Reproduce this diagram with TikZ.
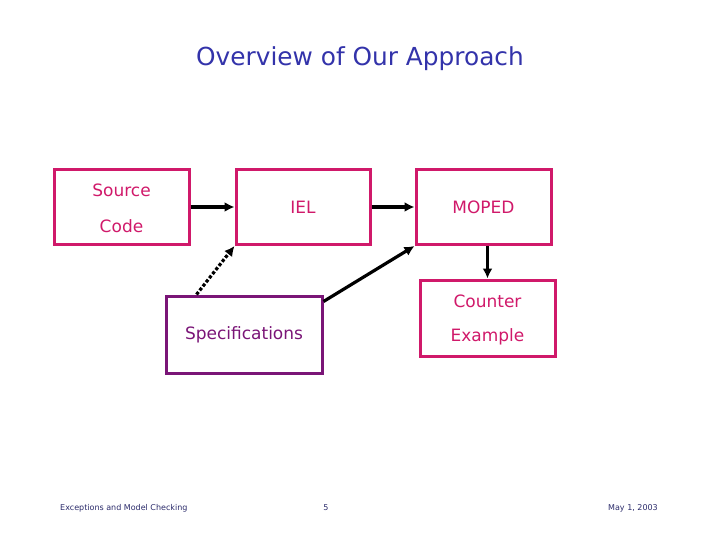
\documentclass[tikz,border=0pt]{standalone}
\usepackage{fontspec}
\setmainfont{DejaVu Sans}
\usetikzlibrary{arrows.meta}
\definecolor{boxpink}{HTML}{D0196A}
\definecolor{boxpurple}{HTML}{7A1577}
\definecolor{titleblue}{HTML}{3333AA}
\definecolor{footblue}{HTML}{2A2A6A}
\tikzset{
  pinkbox/.style={draw=boxpink, line width=3pt, text=boxpink, inner sep=0pt},
  purplebox/.style={draw=boxpurple, line width=3pt, text=boxpurple, inner sep=0pt},
  lbl/.style={font=\fontsize{17}{20}\selectfont},
  conn/.style={line width=3.2pt, -{Latex[length=10pt,width=10pt]}},
  dotconn/.style={line width=3.2pt, dotted, -{Latex[length=10pt,width=10pt]}},
  foot/.style={text=footblue, inner sep=0pt, font=\fontsize{8}{9}\selectfont}
}
\begin{document}
\begin{tikzpicture}[x=1pt,y=-1pt]
\useasboundingbox (0,0) rectangle (720,540);
\node[text=titleblue, font=\fontsize{24.8}{28}\selectfont] (title) at (360,59) {Overview of Our Approach};
\node[pinkbox, minimum width=135pt, minimum height=75pt] (src) at (121.5,207) {};
\node[lbl, text=boxpink] (srct1) at (121.5,190) {Source};
\node[lbl, text=boxpink] (srct2) at (121.5,226) {Code};
\node[pinkbox, lbl, minimum width=134pt, minimum height=75pt] (iel) at (303,207) {IEL};
\node[pinkbox, lbl, minimum width=135pt, minimum height=75pt] (moped) at (483.5,207) {MOPED};
\node[pinkbox, minimum width=135pt, minimum height=76pt] (ce) at (487.5,318) {};
\node[lbl, text=boxpink] (cet1) at (487.5,301) {Counter};
\node[lbl, text=boxpink] (cet2) at (487.5,337) {Example};
\node[purplebox, lbl, minimum width=156pt, minimum height=77pt] (spec) at (244,334.5) {Specifications};
\draw[conn] (src.east) -- (iel.west);
\draw[conn] (iel.east) -- (moped.west);
\draw[conn] (moped.south -| ce.north) coordinate (mb) (mb) -- (ce.north);
\draw[conn] (spec.north east) ++(0,7) coordinate (sne) (sne) -- (moped.south west);
\draw[dotconn] ([xshift=32pt]spec.north west) -- (iel.south west);
\node[foot, anchor=west] (f1) at (60,508) {Exceptions and Model Checking};
\node[foot] (f2) at (326,508) {5};
\node[foot, anchor=east] (f3) at (658,508) {May 1, 2003};
\end{tikzpicture}
\end{document}
